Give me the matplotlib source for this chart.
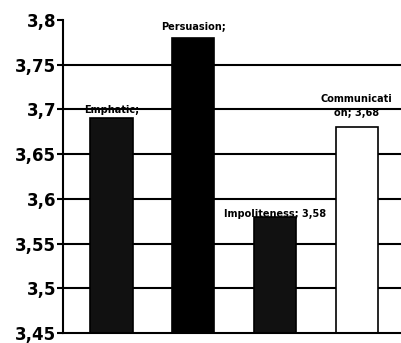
import matplotlib.pyplot as plt
import numpy as np

categories = ['Emphatic', 'Persuasion', 'Impoliteness', 'Communication']
values = [3.69, 3.78, 3.58, 3.68]
bar_labels = ['Emphatic;', 'Persuasion;', 'Impoliteness; 3,58', 'Communicati\non; 3,68']
yticks = [3.45, 3.5, 3.55, 3.6, 3.65, 3.7, 3.75, 3.8]
ytick_labels = ['3,45', '3,5', '3,55', '3,6', '3,65', '3,7', '3,75', '3,8']

fig = plt.figure(figsize=(4.01, 3.43), dpi=100)
ax = fig.add_axes([0.157, 0.029, 0.843, 0.913])

x = np.arange(len(categories))
# grid lines only between the bottom and top ticks
for yv in yticks[1:-1]:
    ax.axhline(yv, color='black', linewidth=1.5, zorder=0)
colors = ['#111111', '#000000', '#111111', 'white']
bars = ax.bar(x, [v - 3.45 for v in values], bottom=3.45, width=0.52,
              color=colors, edgecolor='black', linewidth=1.2, zorder=2)

label_y = [values[0] + 0.004, values[1] + 0.007, values[2] - 0.002, values[3] + 0.01]
for xi, ly, txt in zip(x, label_y, bar_labels):
    ax.text(xi, ly, txt, ha='center', va='bottom', fontsize=7, fontweight='bold',
            linespacing=1.6, zorder=3)

ax.set_xlim(-0.59, 3.54)
ax.set_ylim(3.45, 3.8)
ax.set_yticks(yticks)
ax.set_yticklabels(ytick_labels, fontsize=12, fontweight='bold')
ax.set_xticks([])
for s in ['top', 'right']:
    ax.spines[s].set_visible(False)
ax.spines['left'].set_linewidth(1.5)
ax.spines['bottom'].set_linewidth(1.5)
ax.tick_params(axis='y', length=4, width=1.5, pad=1)

fig.savefig('out.png', dpi=100)
